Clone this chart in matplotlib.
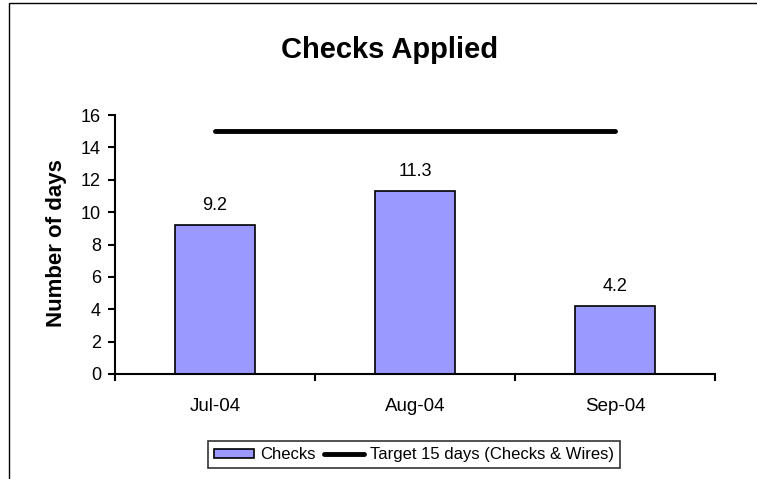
import matplotlib.pyplot as plt
from matplotlib.patches import Rectangle
import numpy as np

plt.rcParams['font.family'] = ['Liberation Sans', 'DejaVu Sans']

months = ['Jul-04', 'Aug-04', 'Sep-04']
checks = [9.2, 11.3, 4.2]
target = [15, 15, 15]

fig = plt.figure(figsize=(7.57, 4.79), dpi=100)
ax = fig.add_axes([115/757, 1 - 374/479, 600/757, 259/479])

x = np.arange(len(months))
bars = ax.bar(x, checks, width=0.4, color='#9999FF', edgecolor='black',
              linewidth=1.2, label='Checks', zorder=2)
line, = ax.plot(x, target, color='black', linewidth=3.5, solid_capstyle='round',
                label='Target 15 days (Checks & Wires)', zorder=3)

for xi, v in zip(x, checks):
    ax.annotate(f'{v}', (xi, v), xytext=(0, 8), textcoords='offset points',
                ha='center', va='bottom', fontsize=13)

ax.set_xlim(-0.5, len(months) - 0.5)
ax.set_ylim(0, 16)
ax.set_yticks(np.arange(0, 17, 2))
ax.set_xticks(np.arange(-0.5, len(months), 1.0))
ax.set_xticklabels([])
ax.set_xticks(x, minor=True)
ax.set_xticklabels(months, minor=True)
ax.tick_params(axis='x', which='minor', length=0, pad=17, labelsize=13.5)
ax.tick_params(axis='x', which='major', length=5, width=1.5, direction='out')
ax.tick_params(axis='y', length=5, width=1.5, direction='out', labelsize=13, pad=5)

for s in ['top', 'right']:
    ax.spines[s].set_visible(False)
for s in ['left', 'bottom']:
    ax.spines[s].set_linewidth(1.5)

ax.set_ylabel('Number of days', fontsize=16, fontweight='bold')
ax.yaxis.set_label_coords(67/757, 1 - 243/479, transform=fig.transFigure)
fig.text(390/757, 1 - 57.5/479, 'Checks Applied', ha='center', va='baseline',
         fontsize=21, fontweight='bold')

leg = fig.legend([bars, line], ['Checks', 'Target 15 days (Checks & Wires)'],
                 loc='center', bbox_to_anchor=(414/757, 1 - 454.5/479), ncol=2,
                 fontsize=12, frameon=True, fancybox=False, edgecolor='black',
                 handlelength=2.4, handleheight=0.45, columnspacing=0.5,
                 handletextpad=0.35, borderpad=0.35, borderaxespad=0)
leg.get_frame().set_linewidth(1.2)

fig.add_artist(Rectangle((9/757, -0.1), 1.2, 1.1 - 3/479, transform=fig.transFigure,
                         fill=False, edgecolor='black', linewidth=1))

fig.savefig('out.png', dpi=100)
